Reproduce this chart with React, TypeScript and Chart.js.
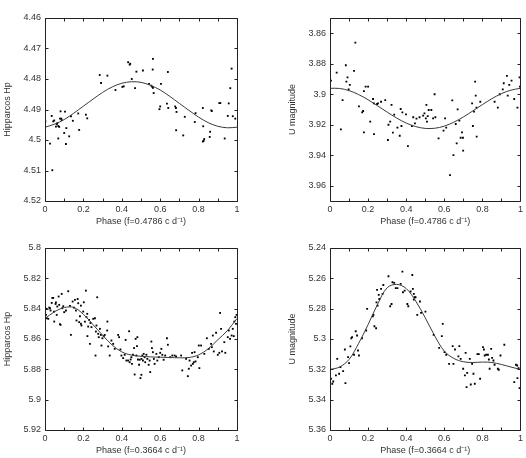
import { useEffect, useRef } from "react";
import { Chart, registerables } from "chart.js";

Chart.register(...registerables);

// ---------- shared axis values ----------
const PHASE_TICKS = [0, 0.2, 0.4, 0.6, 0.8, 1];
const PHASE_MINOR = [0, 0.1, 0.2, 0.3, 0.4, 0.5, 0.6, 0.7, 0.8, 0.9, 1];
const FIT_PHASE = [0, 0.05, 0.1, 0.15, 0.2, 0.25, 0.3, 0.35, 0.4, 0.45, 0.5, 0.55, 0.6, 0.65, 0.7, 0.75, 0.8, 0.85, 0.9, 0.95, 1];

// ---------- Hipparcos, f = 0.4786 ----------
const hpSlowTicks = [4.46, 4.47, 4.48, 4.49, 4.5, 4.51, 4.52];
const hpSlowPhase = [
  0.000, 0.002, 0.026, 0.035, 0.043, 0.038, 0.048, 0.061, 0.064, 0.069, 0.057, 0.074, 0.081, 0.085, 0.087,
  0.069, 0.078, 0.104, 0.100, 0.109, 0.111, 0.126, 0.135, 0.145, 0.173, 0.178, 0.213, 0.220, 0.285, 0.292,
  0.325, 0.367, 0.403, 0.410, 0.433, 0.441, 0.444, 0.452, 0.469, 0.476, 0.510, 0.542, 0.554, 0.559, 0.562,
  0.562, 0.561, 0.566, 0.604, 0.596, 0.600, 0.635, 0.640, 0.642, 0.678, 0.682, 0.685, 0.683, 0.728, 0.720,
  0.784, 0.780, 0.822, 0.824, 0.822, 0.826, 0.829, 0.858, 0.860, 0.866, 0.869, 0.908, 0.913, 0.936, 0.952,
  0.957, 0.965, 0.972, 0.978, 0.991,
];
const hpSlowMag = [
  4.4895, 4.4939, 4.5012, 4.4921, 4.4939, 4.5099, 4.4936, 4.4948, 4.4945, 4.4954, 4.4956, 4.4957, 4.4906, 4.4930, 4.4935,
  4.4995, 4.4930, 4.4907, 4.4977, 4.5013, 4.4961, 4.4988, 4.4922, 4.4937, 4.4913, 4.4967, 4.4917, 4.4929, 4.4787, 4.4813,
  4.4789, 4.4836, 4.4826, 4.4824, 4.4745, 4.4753, 4.4750, 4.4800, 4.4830, 4.4776, 4.4772, 4.4816, 4.4822, 4.4826, 4.4829,
  4.4734, 4.4769, 4.4846, 4.4816, 4.4899, 4.4890, 4.4881, 4.4777, 4.4895, 4.4890, 4.4895, 4.4908, 4.4968, 4.4924, 4.4985,
  4.4912, 4.4941, 4.4895, 4.4955, 4.5005, 4.5003, 4.4997, 4.4990, 4.4973, 4.4903, 4.4905, 4.4879, 4.4879, 4.4995, 4.4921,
  4.4880, 4.4830, 4.4766, 4.4922, 4.4930,
];
const hpSlowFit = [
  4.4958, 4.4948, 4.4933, 4.4912, 4.4889, 4.4866, 4.4844, 4.4826, 4.4814, 4.4809, 4.4811,
  4.4821, 4.4836, 4.4857, 4.4880, 4.4903, 4.4925, 4.4943, 4.4955, 4.4960, 4.4958,
];

// ---------- U band, f = 0.4786 ----------
const uSlowTicks = [3.86, 3.88, 3.9, 3.92, 3.94, 3.96];
const uSlowPhase = [
  0.000, 0.005, 0.035, 0.057, 0.066, 0.083, 0.086, 0.092, 0.098, 0.104, 0.126, 0.133, 0.152, 0.169, 0.174,
  0.178, 0.178, 0.187, 0.200, 0.211, 0.226, 0.230, 0.231, 0.247, 0.252, 0.268, 0.290, 0.304, 0.307, 0.316,
  0.323, 0.330, 0.337, 0.354, 0.366, 0.371, 0.380, 0.375, 0.399, 0.409, 0.430, 0.437, 0.446, 0.454, 0.470,
  0.489, 0.496, 0.503, 0.506, 0.509, 0.513, 0.518, 0.532, 0.541, 0.549, 0.553, 0.570, 0.596, 0.604, 0.610,
  0.630, 0.642, 0.648, 0.660, 0.665, 0.670, 0.679, 0.686, 0.693, 0.698, 0.699, 0.746, 0.750, 0.756, 0.762,
  0.765, 0.769, 0.770, 0.789, 0.864, 0.881, 0.891, 0.907, 0.912, 0.929, 0.933, 0.941, 0.953, 0.967, 0.984,
  0.995, 0.997,
];
const uSlowMag = [
  3.8836, 3.8911, 3.8858, 3.9230, 3.9038, 3.8810, 3.8917, 3.8889, 3.8968, 3.8939, 3.8847, 3.8661, 3.9079, 3.9119, 3.9110,
  3.8979, 3.9250, 3.8950, 3.8950, 3.9180, 3.9031, 3.9060, 3.9261, 3.9064, 3.9060, 3.9049, 3.9038, 3.9300, 3.9200, 3.9180,
  3.9070, 3.9252, 3.9134, 3.9219, 3.9272, 3.9097, 3.9119, 3.9208, 3.9132, 3.9340, 3.9208, 3.9151, 3.9191, 3.9160, 3.9151,
  3.9140, 3.9125, 3.9158, 3.9070, 3.9180, 3.9143, 3.9103, 3.9103, 3.9158, 3.9000, 3.9151, 3.9289, 3.9239, 3.9158, 3.9219,
  3.9530, 3.9040, 3.9399, 3.9195, 3.9322, 3.9099, 3.9173, 3.9285, 3.9250, 3.9285, 3.9370, 3.9060, 3.9208, 3.9114, 3.8917,
  3.9009, 3.9088, 3.9278, 3.9049, 3.9049, 3.9088, 3.9000, 3.8968, 3.8928, 3.8880, 3.9009, 3.8939, 3.8911, 3.9031, 3.9088,
  3.8889, 3.8950,
];
const uSlowFit = [
  3.8961, 3.8962, 3.8976, 3.9002, 3.9036, 3.9076, 3.9117, 3.9156, 3.9189, 3.9212, 3.9224,
  3.9223, 3.9209, 3.9183, 3.9149, 3.9109, 3.9068, 3.9029, 3.8996, 3.8973, 3.8961,
];

// ---------- Hipparcos, f = 0.3664 ----------
const hpFastTicks = [5.8, 5.82, 5.84, 5.86, 5.88, 5.9, 5.92];
const hpFastPhase = [
  0.000, 0.005, 0.009, 0.009, 0.017, 0.022, 0.026, 0.029, 0.035, 0.038, 0.043, 0.047, 0.048, 0.055, 0.057,
  0.061, 0.064, 0.071, 0.074, 0.078, 0.081, 0.087, 0.090, 0.095, 0.100, 0.109, 0.121, 0.130, 0.135, 0.144,
  0.151, 0.156, 0.161, 0.164, 0.170, 0.173, 0.178, 0.182, 0.187, 0.187, 0.190, 0.199, 0.202, 0.208, 0.213,
  0.216, 0.220, 0.221, 0.225, 0.230, 0.234, 0.237, 0.242, 0.251, 0.260, 0.263, 0.265, 0.268, 0.272, 0.277,
  0.280, 0.286, 0.291, 0.294, 0.299, 0.306, 0.311, 0.324, 0.325, 0.329, 0.337, 0.346, 0.355, 0.363, 0.381,
  0.386, 0.393, 0.398, 0.407, 0.415, 0.420, 0.424, 0.433, 0.438, 0.441, 0.446, 0.450, 0.453, 0.458, 0.464,
  0.467, 0.472, 0.476, 0.479, 0.481, 0.484, 0.490, 0.493, 0.497, 0.502, 0.502, 0.507, 0.510, 0.514, 0.519,
  0.522, 0.528, 0.533, 0.540, 0.545, 0.548, 0.554, 0.557, 0.562, 0.567, 0.571, 0.580, 0.585, 0.593, 0.600,
  0.606, 0.611, 0.618, 0.626, 0.635, 0.640, 0.652, 0.663, 0.675, 0.683, 0.709, 0.715, 0.735, 0.744, 0.749,
  0.753, 0.761, 0.766, 0.770, 0.775, 0.779, 0.784, 0.796, 0.801, 0.804, 0.813, 0.830, 0.843, 0.853, 0.865,
  0.869, 0.874, 0.879, 0.891, 0.900, 0.908, 0.912, 0.917, 0.922, 0.934, 0.939, 0.952, 0.957, 0.964, 0.972,
  0.978, 0.983, 0.986, 0.991, 0.995, 0.998,
];
const hpFastMag = [
  5.8456, 5.8441, 5.8401, 5.8463, 5.8467, 5.8393, 5.8397, 5.8412, 5.8362, 5.8329, 5.8329, 5.8419, 5.8485, 5.8369, 5.8358,
  5.8441, 5.8386, 5.8320, 5.8375, 5.8502, 5.8507, 5.8303, 5.8397, 5.8384, 5.8423, 5.8412, 5.8285, 5.8382, 5.8573, 5.8353,
  5.8393, 5.8342, 5.8412, 5.8478, 5.8336, 5.8364, 5.8489, 5.8450, 5.8500, 5.8380, 5.8511, 5.8419, 5.8358, 5.8485, 5.8281,
  5.8456, 5.8434, 5.8581, 5.8518, 5.8474, 5.8632, 5.8494, 5.8522, 5.8467, 5.8463, 5.8709, 5.8551, 5.8511, 5.8325, 5.8566,
  5.8588, 5.8533, 5.8573, 5.8643, 5.8595, 5.8581, 5.8573, 5.8544, 5.8485, 5.8649, 5.8709, 5.8610, 5.8632, 5.8665, 5.8573,
  5.8588, 5.8669, 5.8709, 5.8726, 5.8704, 5.8606, 5.8742, 5.8742, 5.8549, 5.8753, 5.8735, 5.8720, 5.8764, 5.8704, 5.8660,
  5.8834, 5.8599, 5.8709, 5.8647, 5.8588, 5.8735, 5.8770, 5.8737, 5.8858, 5.8836, 5.8731, 5.8709, 5.8742, 5.8698, 5.8720,
  5.8753, 5.8704, 5.8731, 5.8770, 5.8742, 5.8818, 5.8617, 5.8660, 5.8687, 5.8731, 5.8764, 5.8698, 5.8742, 5.8720, 5.8691,
  5.8665, 5.8704, 5.8737, 5.8709, 5.8595, 5.8638, 5.8720, 5.8709, 5.8709, 5.8715, 5.8709, 5.8807, 5.8731, 5.8845, 5.8796,
  5.8742, 5.8775, 5.8691, 5.8764, 5.8753, 5.8687, 5.8748, 5.8720, 5.8643, 5.8792, 5.8643, 5.8698, 5.8595, 5.8665, 5.8632,
  5.8654, 5.8577, 5.8682, 5.8559, 5.8704, 5.8691, 5.8428, 5.8533, 5.8682, 5.8621, 5.8691, 5.8588, 5.8544, 5.8599, 5.8577,
  5.8533, 5.8581, 5.8485, 5.8456, 5.8500, 5.8441,
];
const hpFastFit = [
  5.8465, 5.8420, 5.8393, 5.8392, 5.8437, 5.8505, 5.8575, 5.8640, 5.8685, 5.8706, 5.8714,
  5.8718, 5.8720, 5.8722, 5.8724, 5.8722, 5.8705, 5.8665, 5.8605, 5.8545, 5.8465,
];

// ---------- U band, f = 0.3664 ----------
const uFastTicks = [5.24, 5.26, 5.28, 5.3, 5.32, 5.34, 5.36];
const uFastPhase = [
  0.000, 0.005, 0.012, 0.017, 0.031, 0.038, 0.048, 0.055, 0.069, 0.078, 0.081, 0.095, 0.100, 0.107, 0.112,
  0.116, 0.126, 0.135, 0.142, 0.147, 0.152, 0.168, 0.190, 0.195, 0.225, 0.228, 0.233, 0.242, 0.244, 0.247,
  0.250, 0.256, 0.259, 0.268, 0.276, 0.280, 0.307, 0.316, 0.323, 0.328, 0.337, 0.345, 0.354, 0.371, 0.380,
  0.383, 0.392, 0.406, 0.411, 0.423, 0.432, 0.435, 0.440, 0.444, 0.440, 0.449, 0.458, 0.472, 0.478, 0.501,
  0.544, 0.573, 0.587, 0.592, 0.601, 0.610, 0.625, 0.644, 0.648, 0.656, 0.674, 0.679, 0.686, 0.699, 0.708,
  0.712, 0.717, 0.720, 0.734, 0.739, 0.746, 0.753, 0.760, 0.774, 0.781, 0.788, 0.803, 0.808, 0.812, 0.820,
  0.829, 0.834, 0.838, 0.846, 0.851, 0.858, 0.864, 0.881, 0.886, 0.895, 0.915, 0.967, 0.976, 0.983, 0.984,
  0.990, 0.995,
];
const uFastMag = [
  5.3201, 5.3262, 5.3295, 5.3280, 5.3240, 5.3131, 5.3229, 5.3185, 5.3212, 5.3069, 5.3291, 5.3120, 5.3159, 5.3049, 5.2995,
  5.2988, 5.3104, 5.2949, 5.2977, 5.3076, 5.3109, 5.2995, 5.2944, 5.2801, 5.2850, 5.2841, 5.2916, 5.2929, 5.2758, 5.2676,
  5.2780, 5.2709, 5.2736, 5.2670, 5.2703, 5.2644, 5.2586, 5.2784, 5.2769, 5.2626, 5.2630, 5.2665, 5.2665, 5.2637, 5.2556,
  5.2692, 5.2681, 5.2769, 5.2784, 5.2687, 5.2578, 5.2670, 5.2703, 5.2725, 5.2740, 5.2725, 5.2841, 5.2753, 5.2828, 5.2819,
  5.2973, 5.3058, 5.2981, 5.2900, 5.3087, 5.3104, 5.3164, 5.3047, 5.3164, 5.3069, 5.3115, 5.3047, 5.3131, 5.3196, 5.3240,
  5.3091, 5.3317, 5.3223, 5.3131, 5.3300, 5.3164, 5.3229, 5.3295, 5.3100, 5.3100, 5.3262, 5.3054, 5.3069, 5.3109, 5.3104,
  5.3104, 5.3135, 5.3196, 5.3065, 5.3124, 5.3142, 5.3170, 5.3196, 5.3203, 5.3109, 5.3038, 5.3284, 5.3170, 5.3175, 5.3258,
  5.3192, 5.3324,
];
const uFastFit = [
  5.3201, 5.3185, 5.3135, 5.3030, 5.2905, 5.2770, 5.2662, 5.2640, 5.2667, 5.2750, 5.2860,
  5.2980, 5.3080, 5.3128, 5.3150, 5.3155, 5.3152, 5.3155, 5.3168, 5.3185, 5.3201,
];

// ---------- drawing ----------
const FONT = "'Liberation Sans', Arial, Helvetica, sans-serif";
const INK = "#333";
const PANEL_W = 263;
const PANEL_H = 229;

Chart.defaults.font.family = FONT;
Chart.defaults.font.size = 9;
Chart.defaults.color = INK;

// Closed frame with short inward ticks on all four sides, as in a gnuplot box.
const framePlugin = {
  id: "phaseFrame",
  afterDraw(chart: any) {
    const { ctx, chartArea, scales } = chart;
    const { left, right, top, bottom } = chartArea;
    const xs = scales.x;
    const ys = scales.y;
    const len = 3;
    ctx.save();
    ctx.strokeStyle = "#222";
    ctx.lineWidth = 1;
    ctx.beginPath();
    const L = Math.round(left) + 0.5;
    const R = Math.round(right) + 0.5;
    const T = Math.round(top) + 0.5;
    const B = Math.round(bottom) + 0.5;
    ctx.rect(L, T, R - L, B - T);
    for (const v of PHASE_MINOR) {
      const px = Math.round(xs.getPixelForValue(v)) + 0.5;
      ctx.moveTo(px, B);
      ctx.lineTo(px, B - len);
      ctx.moveTo(px, T);
      ctx.lineTo(px, T + len);
    }
    for (const t of ys.ticks) {
      const py = Math.round(ys.getPixelForValue(t.value)) + 0.5;
      ctx.moveTo(L, py);
      ctx.lineTo(L + len, py);
      ctx.moveTo(R, py);
      ctx.lineTo(R - len, py);
    }
    ctx.stroke();
    ctx.restore();
  },
};

type PanelSpec = {
  x: number;
  y: number;
  axisWidth: number;
  padTop: number;
  padRight: number;
  yTitle: string;
  yTitleGap: number;
  xTitle: string;
  yMin: number;
  yMax: number;
  yTicks: number[];
  phase: number[];
  mag: number[];
  fit: number[];
};

const fmt = (v: number) => String(Math.round(v * 1000) / 1000);

function Panel({ spec }: { spec: PanelSpec }) {
  const ref = useRef<HTMLCanvasElement>(null);

  useEffect(() => {
    const canvas = ref.current;
    if (!canvas) return;
    const chart = new Chart(canvas, {
      type: "scatter",
      data: {
        datasets: [
          {
            data: FIT_PHASE.map((p, i) => ({ x: p, y: spec.fit[i] })),
            showLine: true,
            borderColor: "#3a3a3a",
            borderWidth: 1,
            pointRadius: 0,
            tension: 0.35,
          },
          {
            data: spec.phase.map((p, i) => ({ x: p, y: spec.mag[i] })),
            pointStyle: "rect",
            pointRadius: 1.3,
            backgroundColor: "#000",
            borderWidth: 0,
          },
        ],
      },
      options: {
        responsive: false,
        animation: false,
        events: [],
        layout: { padding: { left: 0, top: spec.padTop, right: spec.padRight, bottom: 0 } },
        plugins: { legend: { display: false }, tooltip: { enabled: false } },
        scales: {
          x: {
            type: "linear",
            min: 0,
            max: 1,
            grid: { display: false, drawTicks: false },
            border: { display: false },
            ticks: { padding: 3, maxRotation: 0, autoSkip: false, color: INK, callback: (v: any) => fmt(Number(v)) },
            afterBuildTicks: (s: any) => {
              s.ticks = PHASE_TICKS.map((v) => ({ value: v }));
            },
            afterFit: (s: any) => {
              s.height = 28;
            },
            title: { display: true, text: spec.xTitle, color: INK, font: { size: 9 }, padding: { top: 0, bottom: 2 } },
          },
          y: {
            type: "linear",
            reverse: true,
            min: spec.yMin,
            max: spec.yMax,
            grid: { display: false, drawTicks: false },
            border: { display: false },
            ticks: { padding: 4, autoSkip: false, color: INK, callback: (v: any) => fmt(Number(v)) },
            afterBuildTicks: (s: any) => {
              s.ticks = spec.yTicks.map((v) => ({ value: v }));
            },
            afterFit: (s: any) => {
              s.width = spec.axisWidth;
            },
            title: { display: true, text: spec.yTitle, color: INK, font: { size: 9 }, padding: { top: spec.yTitleGap, bottom: 0 } },
          },
        },
      },
      plugins: [framePlugin],
    } as any);
    return () => chart.destroy();
  }, [spec]);

  return (
    <canvas
      ref={ref}
      width={PANEL_W}
      height={PANEL_H}
      style={{ position: "absolute", left: spec.x, top: spec.y, width: PANEL_W, height: PANEL_H }}
    />
  );
}

const SLOW_TITLE = "Phase (f=0.4786 c d\u207B\u00B9)";
const FAST_TITLE = "Phase (f=0.3664 c d\u207B\u00B9)";

const PANELS: PanelSpec[] = [
  {
    x: 0, y: 0, axisWidth: 45, padTop: 18, padRight: 26, yTitle: "Hipparcos Hp", yTitleGap: 2, xTitle: SLOW_TITLE,
    yMin: 4.46, yMax: 4.52, yTicks: hpSlowTicks, phase: hpSlowPhase, mag: hpSlowMag, fit: hpSlowFit,
  },
  {
    x: PANEL_W, y: 0, axisWidth: 67, padTop: 18, padRight: 3, yTitle: "U magnitude", yTitleGap: 24, xTitle: SLOW_TITLE,
    yMin: 3.85, yMax: 3.97, yTicks: uSlowTicks, phase: uSlowPhase, mag: uSlowMag, fit: uSlowFit,
  },
  {
    x: 0, y: PANEL_H, axisWidth: 45, padTop: 19, padRight: 26, yTitle: "Hipparcos Hp", yTitleGap: 2, xTitle: FAST_TITLE,
    yMin: 5.8, yMax: 5.92, yTicks: hpFastTicks, phase: hpFastPhase, mag: hpFastMag, fit: hpFastFit,
  },
  {
    x: PANEL_W, y: PANEL_H, axisWidth: 67, padTop: 19, padRight: 3, yTitle: "U magnitude", yTitleGap: 24, xTitle: FAST_TITLE,
    yMin: 5.24, yMax: 5.36, yTicks: uFastTicks, phase: uFastPhase, mag: uFastMag, fit: uFastFit,
  },
];

export default function App() {
  return (
    <div style={{ position: "absolute", left: 0, top: 0, width: 526, height: 458, background: "#fff" }}>
      {PANELS.map((p, i) => (
        <Panel key={i} spec={p} />
      ))}
    </div>
  );
}
